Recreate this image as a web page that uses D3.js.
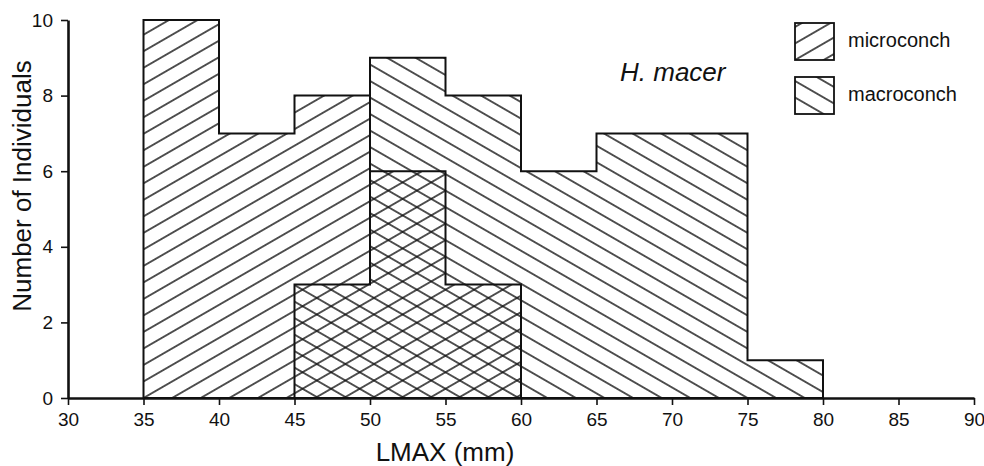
<!DOCTYPE html>
<html><head><meta charset="utf-8">
<script src="https://cdn.jsdelivr.net/npm/d3@7/dist/d3.min.js"></script>
<style>
html,body{margin:0;padding:0;background:#fff;}
svg{display:block;font-family:"Liberation Sans",Arial,sans-serif;}
</style></head>
<body>
<svg id="chart" width="984" height="466"></svg>
<script>
// ---- data ----
const binWidth = 5;
const microBins = [35, 40, 45, 50, 55];
const microCounts = [10, 7, 8, 6, 3];
const macroBins = [45, 50, 55, 60, 65, 70, 75];
const macroCounts = [3, 9, 8, 6, 7, 7, 1];
const xTicks = [30, 35, 40, 45, 50, 55, 60, 65, 70, 75, 80, 85, 90];
const yTicks = [0, 2, 4, 6, 8, 10];
const seriesNames = ["microconch", "macroconch"];
const speciesLabel = "H. macer";
const xTitle = "LMAX (mm)";
const yTitle = "Number of Individuals";

// ---- scales ----
const svg = d3.select("#chart");
const x = d3.scaleLinear().domain([30, 90]).range([68, 974]);
const y = d3.scaleLinear().domain([0, 10]).range([398, 20]);
const ink = "#111";

// ---- hatch patterns ----
const defs = svg.append("defs");
function hatch(id, angle, ox, oy, sp) {
  const p = defs.append("pattern").attr("id", id)
    .attr("patternUnits", "userSpaceOnUse")
    .attr("width", 40).attr("height", sp)
    .attr("patternTransform", `translate(${ox},${oy}) rotate(${angle})`);
  [0, sp].forEach(v => p.append("line")
    .attr("x1", -1).attr("x2", 41).attr("y1", v).attr("y2", v)
    .attr("stroke", ink).attr("stroke-width", 1.5));
}
hatch("hMicro", -30, x(35), y(0), 14.3);
hatch("hMacro", 30, x(75), y(0), 14.3);
hatch("hMicroL", -30, 795, 60, 14.3);
hatch("hMacroL", 30, 795, 114, 14.3);

// ---- step outlines ----
function stepPoints(bins, counts) {
  const pts = [[bins[0], 0]];
  bins.forEach((b, i) => { pts.push([b, counts[i]]); pts.push([b + binWidth, counts[i]]); });
  pts.push([bins[bins.length - 1] + binWidth, 0]);
  return pts;
}
const line = d3.line().x(d => x(d[0])).y(d => y(d[1]));

svg.append("path").attr("d", line(stepPoints(macroBins, macroCounts)) + "Z")
  .attr("fill", "url(#hMacro)").attr("stroke", ink).attr("stroke-width", 2).attr("stroke-linejoin", "miter");
svg.append("path").attr("d", line(stepPoints(microBins, microCounts)) + "Z")
  .attr("fill", "url(#hMicro)").attr("stroke", ink).attr("stroke-width", 2).attr("stroke-linejoin", "miter");

// ---- axes ----
const gx = svg.append("g").attr("transform", `translate(0,${y(0)})`)
  .call(d3.axisBottom(x).tickValues(xTicks).tickSize(7).tickSizeOuter(0).tickPadding(8));
const gy = svg.append("g").attr("transform", `translate(${x(30)},0)`)
  .call(d3.axisLeft(y).tickValues(yTicks).tickSize(7).tickSizeOuter(0).tickPadding(8));
[gx, gy].forEach(g => {
  g.select(".domain").attr("stroke", ink).attr("stroke-width", 2.6);
  g.selectAll(".tick line").attr("stroke", ink).attr("stroke-width", 1.6);
  g.selectAll(".tick text").attr("fill", ink).style("font-size", "19px")
    .style("font-family", "'Liberation Sans', Arial, sans-serif");
});

// axis titles
svg.append("text").attr("x", 445).attr("y", 461).attr("text-anchor", "middle")
  .style("font-size", "26px").attr("fill", ink).text(xTitle);
svg.append("text").attr("transform", `translate(31,186) rotate(-90)`).attr("text-anchor", "middle")
  .style("font-size", "26px").attr("fill", ink).text(yTitle);

// species label
svg.append("text").attr("x", 620).attr("y", 81).style("font-size", "26px")
  .style("font-style", "italic").attr("fill", ink).text(speciesLabel);

// legend
const legY = [23, 77];
const legFill = ["url(#hMicroL)", "url(#hMacroL)"];
seriesNames.forEach((n, i) => {
  svg.append("rect").attr("x", 795).attr("y", legY[i]).attr("width", 39).attr("height", 37)
    .attr("fill", legFill[i]).attr("stroke", ink).attr("stroke-width", 1.8);
  svg.append("text").attr("x", 848).attr("y", legY[i] + 24).style("font-size", "20px")
    .attr("fill", ink).text(n);
});
</script>
</body></html>
